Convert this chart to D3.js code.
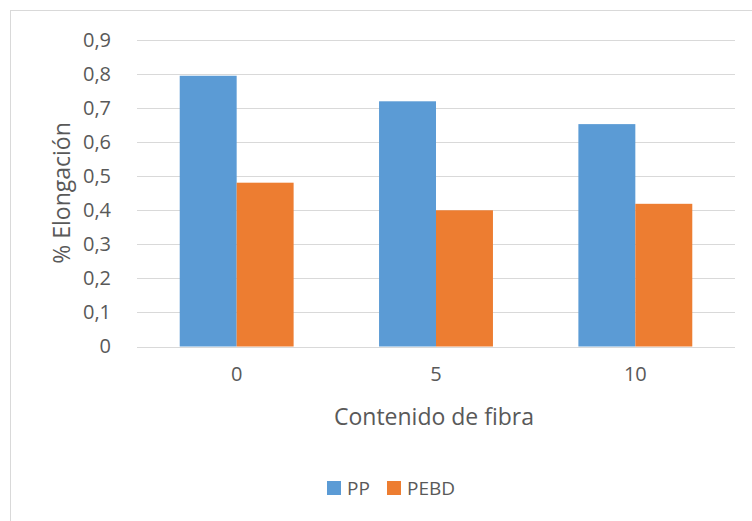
<!doctype html>
<html>
<head>
<meta charset="utf-8">
<script src="https://d3js.org/d3.v7.min.js"></script>
<style>
  body { margin: 0; background: #fff; }
  text { font-family: "Open Sans", sans-serif; fill: #595959; }
</style>
</head>
<body>
<div id="chart"></div>
<script>
  var categories = ["0", "5", "10"];
  var seriesNames = ["PP", "PEBD"];
  var ppValues = [0.795, 0.72, 0.653];
  var pebdValues = [0.481, 0.40, 0.419];
  var yTicks = [0, 0.1, 0.2, 0.3, 0.4, 0.5, 0.6, 0.7, 0.8, 0.9];
  var colors = ["#5B9BD5", "#ED7D31"];

  var W = 752, H = 521;
  var margin = {top: 40, right: 17, bottom: 174.5, left: 137},
      width = W - margin.left - margin.right,
      height = H - margin.top - margin.bottom;

  var svg = d3.select("#chart").append("svg")
      .attr("width", W).attr("height", H);

  // chart border (right and bottom edges fall outside the picture)
  svg.append("rect")
      .attr("x", 10.5).attr("y", 10.5)
      .attr("width", 760).attr("height", 530)
      .attr("fill", "none").attr("stroke", "#d9d9d9");

  var g = svg.append("g")
      .attr("transform", "translate(" + margin.left + "," + margin.top + ")");

  var x = d3.scaleBand().domain(categories).range([0, width]);
  var x1 = d3.scaleBand().domain(seriesNames)
      .range([0, x.bandwidth() * 2 / 3.5]);
  var y = d3.scaleLinear().domain([0, 0.9]).range([height, 0]);

  var fmt = function(d) { return d === 0 ? "0" : d3.format(".1f")(d).replace(".", ","); };

  // gridlines
  g.selectAll(".grid").data(yTicks).enter().append("line")
      .attr("x1", 0).attr("x2", width)
      .attr("y1", function(d) { return Math.round(y(d)) + 0.5; })
      .attr("y2", function(d) { return Math.round(y(d)) + 0.5; })
      .attr("stroke", "#d9d9d9").attr("stroke-width", 1);

  // y axis labels
  var yAxis = g.append("g")
      .attr("transform", "translate(-23,0)")
      .call(d3.axisLeft(y).tickValues(yTicks).tickFormat(fmt).tickSize(0));
  yAxis.select(".domain").remove();
  yAxis.selectAll("text")
      .style("font-family", "Open Sans, sans-serif")
      .style("font-size", "20px").attr("fill", "#595959");

  // bars
  var data = categories.map(function(c, i) {
    return {cat: c, vals: [ppValues[i], pebdValues[i]]};
  });
  var groups = g.selectAll(".grp").data(data).enter().append("g")
      .attr("transform", function(d) {
        return "translate(" + (x(d.cat) + x.bandwidth() * 0.75 / 3.5) + ",0)";
      });
  groups.selectAll("rect")
      .data(function(d) { return d.vals.map(function(v, i) { return {name: seriesNames[i], v: v, i: i}; }); })
      .enter().append("rect")
      .attr("x", function(d) { return x1(d.name); })
      .attr("y", function(d) { return y(d.v); })
      .attr("width", x1.bandwidth())
      .attr("height", function(d) { return height - y(d.v); })
      .attr("fill", function(d) { return colors[d.i]; });

  // x axis labels
  var xAxis = g.append("g")
      .attr("transform", "translate(0," + height + ")")
      .call(d3.axisBottom(x).tickSize(0).tickPadding(20));
  xAxis.select(".domain").remove();
  xAxis.selectAll("text")
      .style("font-family", "Open Sans, sans-serif")
      .style("font-size", "20px").attr("fill", "#595959");

  // axis titles
  svg.append("text")
      .attr("x", margin.left + width / 2 - 2).attr("y", 425)
      .attr("text-anchor", "middle")
      .style("font-size", "23px")
      .text("Contenido de fibra");

  svg.append("text")
      .attr("transform", "translate(70,193) rotate(-90)")
      .attr("text-anchor", "middle")
      .style("font-size", "23px")
      .text("% Elongación");

  // legend
  var legX = [327, 387];
  var leg = svg.selectAll(".leg").data(seriesNames).enter().append("g")
      .attr("transform", function(d, i) { return "translate(" + legX[i] + ",481)"; });
  leg.append("rect").attr("width", 14).attr("height", 14)
      .attr("fill", function(d, i) { return colors[i]; });
  leg.append("text").attr("x", 20).attr("y", 14)
      .style("font-size", "19px")
      .text(function(d) { return d; });
</script>
</body>
</html>
